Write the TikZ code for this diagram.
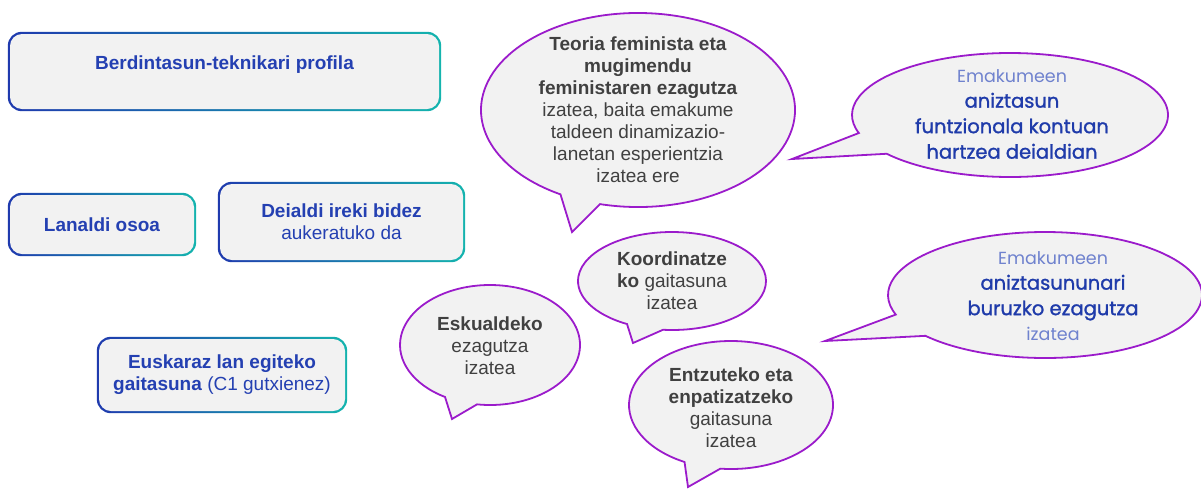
\documentclass[tikz,border=0pt]{standalone}
\usepackage{fontspec}
\setmainfont{Liberation Sans}
\newfontfamily\handfont{Poppins}
\newfontfamily\handbold[FakeBold=1.3]{Poppins}
\usetikzlibrary{backgrounds}
\definecolor{bblue}{HTML}{1F3AAE}
\definecolor{bteal}{HTML}{14B4AE}
\definecolor{boxfill}{HTML}{F2F2F2}
\definecolor{txtblue}{HTML}{2440B2}
\definecolor{bpurple}{HTML}{9B1BCB}
\definecolor{txtgray}{HTML}{404040}
\definecolor{handlight}{HTML}{6F82CE}
\definecolor{handdark}{HTML}{1F3BAA}
\newcommand{\litehand}[1]{{\handfont\color{handlight}\fontsize{17.5}{25.5}\selectfont #1}}
\begin{document}
\begin{tikzpicture}[x=1pt,y=1pt,
  boxnode/.style={fill=boxfill, rounded corners=12pt, inner sep=0pt, text=txtblue, font=\fontsize{19}{22}\selectfont},
  bubble/.style={draw=bpurple, line width=1.8pt, fill=boxfill, line join=miter},
  bubtext/.style={align=center, text=txtgray, inner sep=0pt, font=\fontsize{19}{22}\selectfont},
  handtext/.style={align=center, inner sep=0pt, text=handdark, font=\handbold\fontsize{19.5}{25.5}\selectfont}]
\useasboundingbox (0,0) rectangle (1201,-488);

% boxes
\node[boxnode, minimum width=429pt, minimum height=75pt, text height=14pt, text depth=18pt] (b1) at (224.5,-71.5) {\bfseries Berdintasun-teknikari profila};
\node[boxnode, minimum width=184pt, minimum height=59pt] (b2) at (102,-224.5) {\bfseries Lanaldi osoa};
\node[boxnode, align=center, minimum width=243pt, minimum height=76pt] (b3) at (341.5,-222) {\textbf{Deialdi ireki bidez}\\aukeratuko da};
\node[boxnode, align=center, minimum width=246pt, minimum height=72pt] (b4) at (222,-375) {\textbf{Euskaraz lan egiteko}\\\textbf{gaitasuna} (C1 gutxienez)};
\begin{scope}[on background layer]
\foreach \n in {b1,b2,b3,b4}
  \shade[rounded corners=14pt, left color=bblue, right color=bteal]
    ([shift={(-2,-2)}]\n.south west) rectangle ([shift={(2,2)}]\n.north east);
\end{scope}

% bubbles
\coordinate (c1) at (638,-110);
\coordinate (c2) at (1010,-115);
\coordinate (c3) at (1045,-295);
\coordinate (c4) at (672,-281);
\coordinate (c5) at (490,-345);
\coordinate (c6) at (731,-405);
\coordinate (p1) at (572,-232);
\coordinate (p2) at (792,-159);
\coordinate (p3) at (825,-341);
\coordinate (p4) at (633,-343);
\coordinate (p5) at (452,-419);
\coordinate (p6) at (688,-487);

\draw[bubble] (c1) ++(256:157 and 97) arc[start angle=256, end angle=600.4, x radius=157, y radius=97] -- (p1) -- cycle;
\draw[bubble] (c2) ++(218.7:158 and 62) arc[start angle=218.7, end angle=556.9, x radius=158, y radius=62] -- (p2) -- cycle;
\draw[bubble] (c3) ++(220.4:157 and 63) arc[start angle=220.4, end angle=558.1, x radius=157, y radius=63] -- (p3) -- cycle;
\draw[bubble] (c4) ++(264.5:94 and 49) arc[start angle=264.5, end angle=601.4, x radius=94, y radius=49] -- (p4) -- cycle;
\draw[bubble] (c5) ++(261.7:90 and 60) arc[start angle=261.7, end angle=600, x radius=90, y radius=60] -- (p5) -- cycle;
\draw[bubble] (c6) ++(264:102 and 64) arc[start angle=264, end angle=602.9, x radius=102, y radius=64] -- (p6) -- cycle;

% bubble texts
\node[bubtext] (t1) at (638,-110) {\textbf{Teoria feminista eta}\\\textbf{mugimendu}\\\textbf{feministaren ezagutza}\\izatea, baita emakume\\taldeen dinamizazio-\\lanetan esperientzia\\izatea ere};
\node[handtext] (t2) at (1012,-114) {\litehand{Emakumeen}\\aniztasun\\funtzionala kontuan\\hartzea deialdian};
\node[handtext] (t3) at (1053,-296) {\litehand{Emakumeen}\\aniztasununari\\buruzko ezagutza\\\litehand{izatea}};
\node[bubtext] (t4) at (672,-281) {\textbf{Koordinatze}\\\textbf{ko} gaitasuna\\izatea};
\node[bubtext] (t5) at (490,-346) {\textbf{Eskualdeko}\\ezagutza\\izatea};
\node[bubtext] (t6) at (731,-408) {\textbf{Entzuteko eta}\\\textbf{enpatizatzeko}\\gaitasuna\\izatea};
\end{tikzpicture}
\end{document}
